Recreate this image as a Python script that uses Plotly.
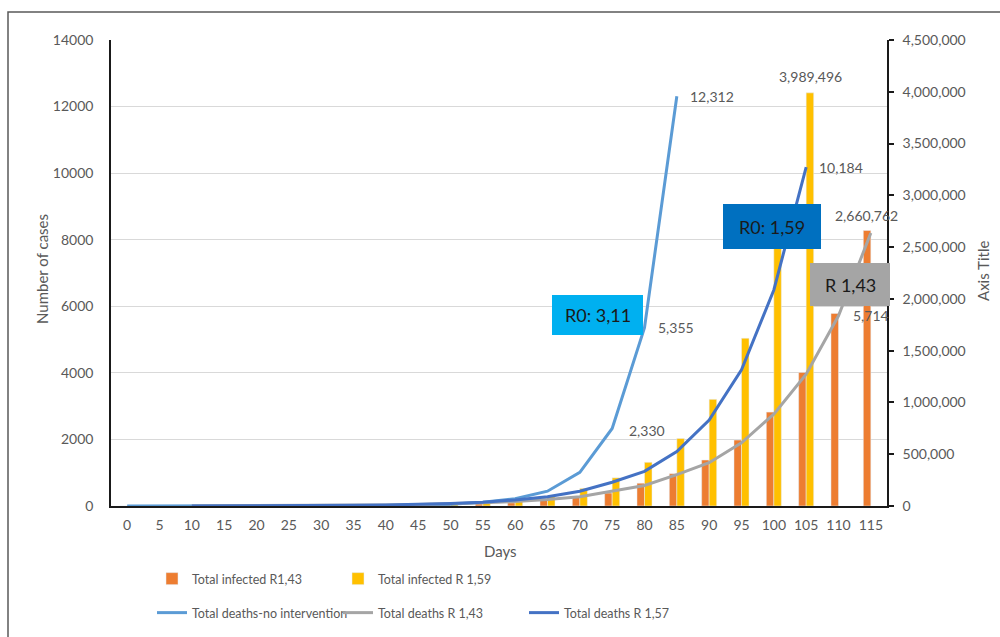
import plotly.graph_objects as go

# ---------------- data ----------------
days = [str(d) for d in range(0, 120, 5)]

infected_r143 = [0, 0, 1000, 1500, 2000, 3000, 4000, 6000, 8000, 12000, 15000, 20000,
                 30000, 62000, 90000, 125000, 220000, 312000, 444000, 637000, 907000,
                 1290000, 1860000, 2660762]
infected_r159 = [0, 0, 1000, 1500, 2500, 4000, 6000, 9000, 12000, 16000, 22000, 28000,
                 42000, 95000, 170000, 272000, 422000, 652000, 1030000, 1620000, 2540000,
                 3989496, None, None]

deaths_none_days = days[0:18]
deaths_none = [1, 1, 2, 2, 3, 4, 6, 9, 15, 25, 50, 110, 220, 445, 1010, 2330, 5355, 12312]

deaths_r143_days = days[2:24]
deaths_r143 = [3, 5, 7, 10, 15, 21, 30, 45, 65, 95, 135, 195, 280, 445, 615, 940, 1300,
               1900, 2760, 3960, 5714, 8200]

deaths_r157_days = days[2:22]
deaths_r157 = [2, 3, 5, 8, 12, 19, 30, 48, 75, 115, 180, 280, 445, 713, 1040, 1634, 2580,
               4090, 6490, 10184]

left_ticks = [0, 2000, 4000, 6000, 8000, 10000, 12000, 14000]
right_ticks = list(range(0, 4500001, 500000))

# ---------------- geometry helpers (pixels -> paper) ----------------
W, H = 1000, 637
ML, MR, MT, MB = 111, 113, 40, 131
PW, PH = W - ML - MR, H - MT - MB


def px(x):
    return (x - ML) / PW


def py(y):
    return (MT + PH - y) / PH


FONT = "Lato, 'Open Sans', sans-serif"
GREY_TXT = "#595959"

fig = go.Figure()

# bars on yaxis (drawn on right side)
fig.add_trace(go.Bar(x=days, y=infected_r143, name="Total infected R1,43",
                     marker_color="#ED7D31", yaxis="y", legend="legend"))
fig.add_trace(go.Bar(x=days, y=infected_r159, name="Total infected R 1,59",
                     marker_color="#FFC000", yaxis="y", legend="legend"))

# lines on yaxis2 (drawn on left side, overlaying so above bars)
fig.add_trace(go.Scatter(x=deaths_none_days, y=deaths_none, mode="lines",
                         name="Total deaths-no intervention",
                         line=dict(color="#5B9BD5", width=3), yaxis="y2", legend="legend2"))
fig.add_trace(go.Scatter(x=deaths_r143_days, y=deaths_r143, mode="lines",
                         name="Total deaths R 1,43",
                         line=dict(color="#A5A5A5", width=3), yaxis="y2", legend="legend2"))
fig.add_trace(go.Scatter(x=deaths_r157_days, y=deaths_r157, mode="lines",
                         name="Total deaths R 1,57",
                         line=dict(color="#4472C4", width=3), yaxis="y2", legend="legend2"))

annotations = []
lab_font = dict(family=FONT, size=14, color=GREY_TXT)


def line_label(xs, ys, i, xshift=12, yshift=0):
    annotations.append(dict(x=days.index(xs[i]), y=ys[i], xref="x", yref="y2",
                            text=f"{ys[i]:,}", showarrow=False, xanchor="left",
                            yanchor="middle", xshift=xshift, yshift=yshift, font=lab_font))


line_label(deaths_none_days, deaths_none, 17, xshift=11)
line_label(deaths_none_days, deaths_none, 16, xshift=11)
line_label(deaths_none_days, deaths_none, 15, xshift=15, yshift=-2)
line_label(deaths_r157_days, deaths_r157, 19, xshift=11)
line_label(deaths_r143_days, deaths_r143, 20, xshift=12)

annotations.append(dict(x=21, y=infected_r159[21], xref="x", yref="y",
                        text=f"{infected_r159[21]:,}", showarrow=False, xanchor="center",
                        yanchor="bottom", xshift=4, yshift=6, font=lab_font))
annotations.append(dict(x=23, y=infected_r143[23], xref="x", yref="y",
                        text=f"{infected_r143[23]:,}", showarrow=False, xanchor="center",
                        yanchor="bottom", xshift=-4, yshift=4, font=lab_font))

# callout boxes
boxes = [
    ("R0: 3,11", 552, 295, 643, 335, "#00B0F0"),
    ("R0: 1,59", 723, 204, 821, 249, "#0070C0"),
    ("R 1,43", 810, 263, 890, 306, "#A5A5A5"),
]
shapes = []
for text, x0, y0, x1, y1, col in boxes:
    shapes.append(dict(type="rect", xref="paper", yref="paper", x0=px(x0), x1=px(x1),
                       y0=py(y1), y1=py(y0), fillcolor=col, line=dict(width=0),
                       layer="above"))
    annotations.append(dict(xref="paper", yref="paper", x=px((x0 + x1) / 2),
                            y=py((y0 + y1) / 2), text=text, showarrow=False,
                            xanchor="center", yanchor="middle",
                            font=dict(family=FONT, size=18, color="#1a1a1a")))

# outer frame
shapes.append(dict(type="rect", xref="paper", yref="paper", x0=px(8), x1=px(1010),
                   y0=py(660), y1=py(12), line=dict(color="#595959", width=1.5),
                   layer="below"))

# axis titles
title_font = dict(family=FONT, size=15, color=GREY_TXT)
annotations.append(dict(xref="paper", yref="paper", x=px(42), y=py(269),
                        xanchor="center", yanchor="middle",
                        text="Number of cases", textangle=-90, showarrow=False,
                        font=title_font))
annotations.append(dict(xref="paper", yref="paper", x=px(983), y=py(271),
                        xanchor="center", yanchor="middle",
                        text="Axis Title", textangle=-90, showarrow=False,
                        font=title_font))
annotations.append(dict(xref="paper", yref="paper", x=px(500), y=py(551),
                        xanchor="center", yanchor="middle",
                        text="Days", showarrow=False, font=title_font))

legend_font = dict(family=FONT, size=12.5, color=GREY_TXT)

fig.update_layout(
    width=W, height=H,
    margin=dict(l=ML, r=MR, t=MT, b=MB, autoexpand=False),
    plot_bgcolor="white", paper_bgcolor="white",
    barmode="group", bargap=0.535, bargroupgap=0,
    font=dict(family=FONT, size=14, color=GREY_TXT),
    xaxis=dict(type="category", categoryorder="array", categoryarray=days,
               range=[-0.5, len(days) - 0.5], tickangle=0,
               showline=True, linecolor="#1a1a1a", linewidth=1.5,
               showgrid=False, ticks="", ticklabelstandoff=5,
               tickfont=dict(family=FONT, size=14, color=GREY_TXT)),
    yaxis=dict(side="right", range=[0, 4500000], tickvals=right_ticks,
               tickformat=",d", showgrid=False, zeroline=False,
               showline=True, linecolor="#1a1a1a", linewidth=1.5,
               ticks="outside", ticklen=5, tickcolor="#1a1a1a", tickwidth=1.5,
               ticklabelstandoff=6,
               tickfont=dict(family=FONT, size=14, color=GREY_TXT)),
    yaxis2=dict(side="left", overlaying="y", range=[0, 14000], tickvals=left_ticks,
                tickformat="d", showgrid=True, gridcolor="#D9D9D9", gridwidth=1,
                zeroline=False, showline=True, linecolor="#1a1a1a", linewidth=1.5,
                ticks="", ticklabelstandoff=13,
                tickfont=dict(family=FONT, size=14, color=GREY_TXT)),
    legend=dict(orientation="h", x=px(152), y=py(564), xanchor="left", yanchor="top",
                entrywidth=141, entrywidthmode="pixels", bgcolor="rgba(0,0,0,0)",
                font=legend_font, traceorder="normal"),
    legend2=dict(orientation="h", x=px(152), y=py(598), xanchor="left", yanchor="top",
                 entrywidth=141, entrywidthmode="pixels", bgcolor="rgba(0,0,0,0)",
                 font=legend_font, traceorder="normal"),
    annotations=annotations,
    shapes=shapes,
    showlegend=True,
)

fig.write_html("out.html")
